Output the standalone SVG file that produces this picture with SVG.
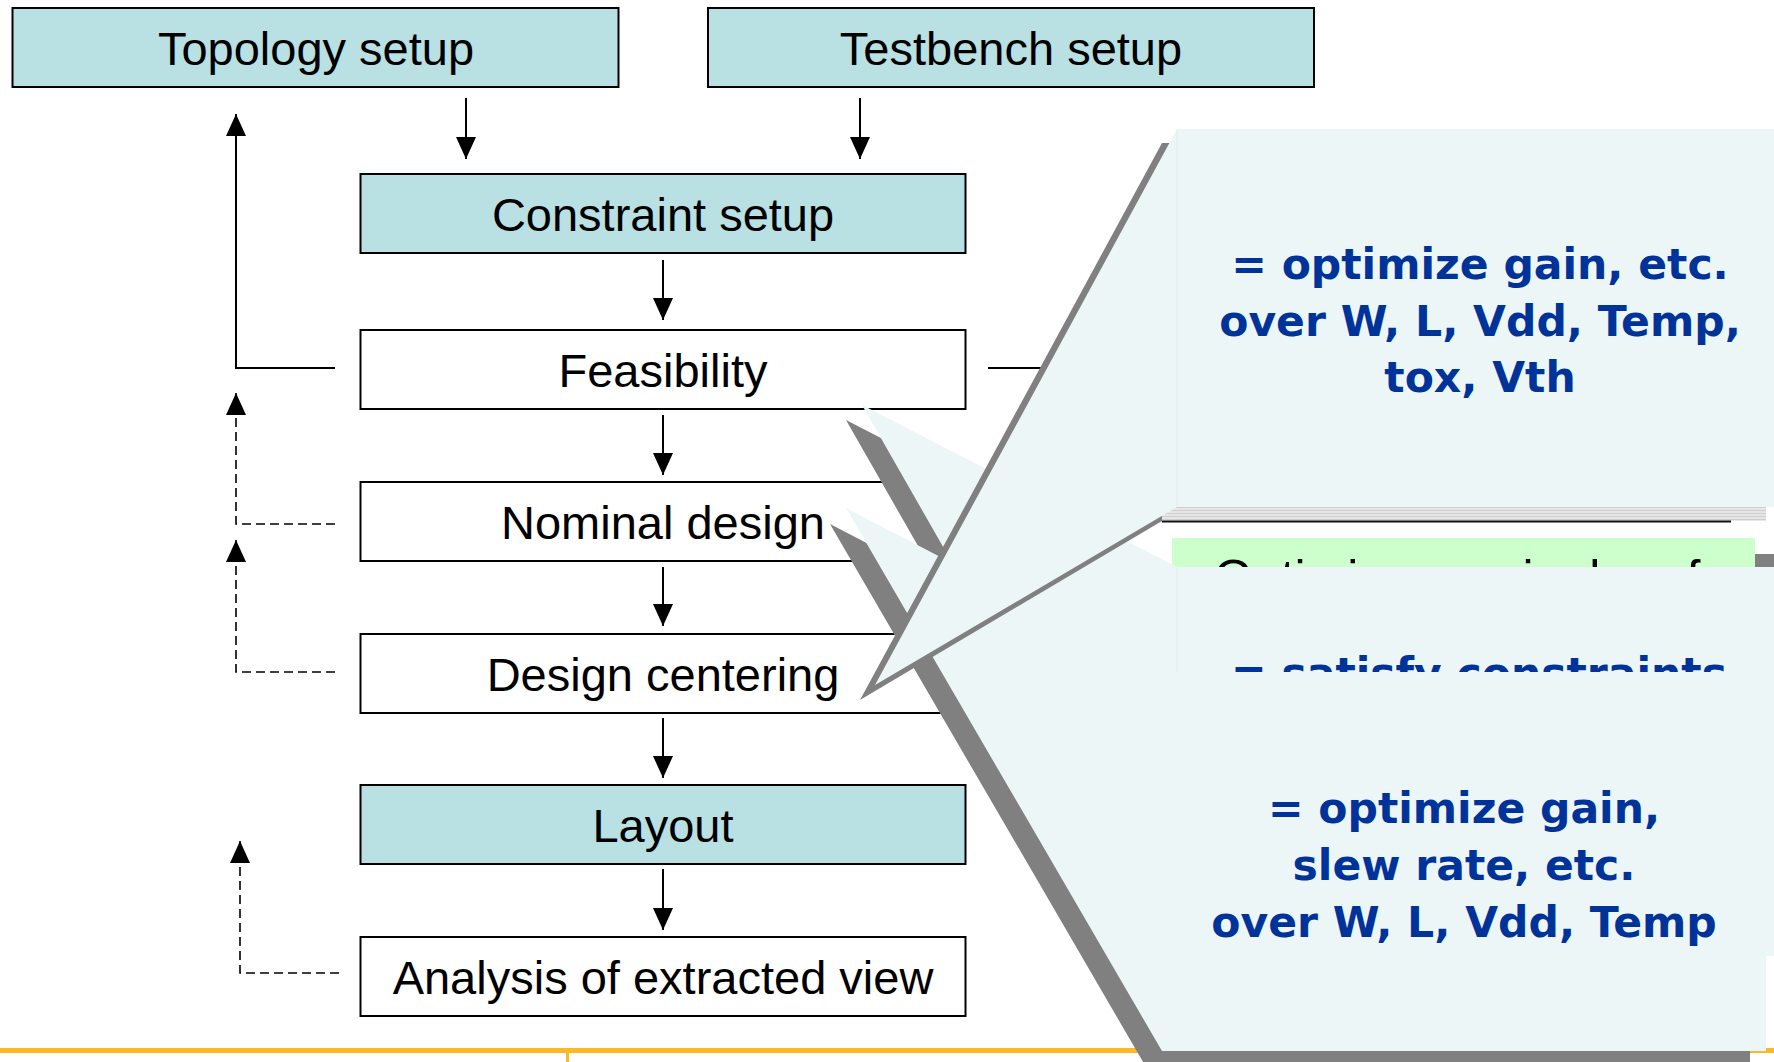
<svg xmlns="http://www.w3.org/2000/svg" width="1774" height="1062" viewBox="0 0 1774 1062">
  <defs>
    <style>
      .box { stroke: #000; stroke-width: 2; }
      .teal { fill: #B9E0E3; }
      .white { fill: #FFFFFF; }
      .lbl { font-family: "Liberation Sans", Arial, sans-serif; font-size: 47px; fill: #000; text-anchor: middle; }
      .conn { stroke: #000; stroke-width: 2; fill: none; }
      .dash { stroke: #000; stroke-width: 1.6; fill: none; stroke-dasharray: 9 5; }
      .callout { fill: #EDF6F7; }
      .shadow { fill: #808080; }
      .ctext { font-family: "DejaVu Sans", Verdana, sans-serif; font-weight: bold; font-size: 42.5px; fill: #003399; text-anchor: middle; }
      .seam { stroke: #E0EAEC; stroke-width: 1; }
    </style>
    <marker id="ah" markerUnits="userSpaceOnUse" markerWidth="22" markerHeight="20" refX="22" refY="10" orient="auto">
      <path d="M0,0 L22,10 L0,20 Z" fill="#000" stroke="none"/>
    </marker>
    <pattern id="stripe" patternUnits="userSpaceOnUse" width="8" height="3">
      <rect width="8" height="3" fill="#E6E6E6"/>
      <rect width="8" height="1" fill="#CFCFCF"/>
    </pattern>
    <clipPath id="noteclip">
      <rect x="1172" y="538" width="600" height="29"/>
    </clipPath>
  </defs>

  <rect width="1774" height="1062" fill="#FFFFFF"/>

  <!-- footer rule -->
  <g id="footer">
    <rect x="0" y="1048" width="1774" height="5" fill="#FDB827"/>
    <rect x="566" y="1052" width="3" height="10" fill="#FDB827"/>
  </g>

  <!-- connectors -->
  <g id="connectors">
    <line class="conn" x1="466" y1="98" x2="466" y2="159" marker-end="url(#ah)"/>
    <line class="conn" x1="860" y1="98" x2="860" y2="159" marker-end="url(#ah)"/>
    <line class="conn" x1="663" y1="260" x2="663" y2="320" marker-end="url(#ah)"/>
    <line class="conn" x1="663" y1="415" x2="663" y2="475" marker-end="url(#ah)"/>
    <line class="conn" x1="663" y1="567" x2="663" y2="626" marker-end="url(#ah)"/>
    <line class="conn" x1="663" y1="718" x2="663" y2="778" marker-end="url(#ah)"/>
    <line class="conn" x1="663" y1="869" x2="663" y2="930" marker-end="url(#ah)"/>
    <polyline class="conn" points="335,368 236,368 236,114" marker-end="url(#ah)"/>
    <line class="conn" x1="988" y1="368" x2="1060" y2="368"/>
    <polyline class="dash" points="335,524 236,524 236,393" marker-end="url(#ah)"/>
    <polyline class="dash" points="335,672 236,672 236,540" marker-end="url(#ah)"/>
    <polyline class="dash" points="339,973 240,973 240,841" marker-end="url(#ah)"/>
  </g>

  <!-- nodes -->
  <g id="topology">
    <rect class="box teal" x="12.5" y="8" width="606" height="79"/>
    <text class="lbl" x="316" y="64.5">Topology setup</text>
  </g>
  <g id="testbench">
    <rect class="box teal" x="708" y="8" width="606" height="79"/>
    <text class="lbl" x="1011" y="64.5">Testbench setup</text>
  </g>
  <g id="constraint">
    <rect class="box teal" x="360.5" y="174" width="605" height="79"/>
    <text class="lbl" x="663" y="230.5">Constraint setup</text>
  </g>
  <g id="feasibility">
    <rect class="box white" x="360.5" y="330" width="605" height="79"/>
    <text class="lbl" x="663" y="386.5">Feasibility</text>
  </g>
  <g id="nominal">
    <rect class="box white" x="360.5" y="482" width="605" height="79"/>
    <text class="lbl" x="663" y="538.5">Nominal design</text>
  </g>
  <g id="centering">
    <rect class="box white" x="360.5" y="634" width="605" height="79"/>
    <text class="lbl" x="663" y="690.5">Design centering</text>
  </g>
  <g id="layout">
    <rect class="box teal" x="360.5" y="785" width="605" height="79"/>
    <text class="lbl" x="663" y="841.5">Layout</text>
  </g>
  <g id="analysis">
    <rect class="box white" x="360.5" y="937" width="605" height="79"/>
    <text class="lbl" x="663" y="993.5">Analysis of extracted view</text>
  </g>

  <!-- partially hidden green note -->
  <g id="note-green">
    <rect x="1755" y="554" width="19" height="13" fill="#808080"/>
    <rect x="1172" y="538" width="583" height="29" fill="#CCFFCC"/>
    <g clip-path="url(#noteclip)">
      <text x="1214" y="595" font-family="Liberation Sans, Arial, sans-serif" font-size="50" fill="#000">Optimize nominal perf</text>
    </g>
  </g>

  <!-- callout: satisfy constraints (to Feasibility) -->
  <g id="callout-feasibility">
    <polygon class="shadow" points="1161,582 1765,582 1765,971 1161,971 846,420"/>
    <polygon class="callout" points="1177,567 1781,567 1781,956 1177,956 862,405"/>
    <line class="seam" x1="1177" y1="568" x2="1177" y2="672"/>
    <text class="ctext" x="1479" y="688">= satisfy constraints</text>
  </g>

  <!-- callout: optimize gain, slew rate (to Nominal design) -->
  <g id="callout-nominal">
    <polygon class="shadow" points="1146,688 1750,688 1750,1067 1146,1067 830,524"/>
    <polygon class="callout" points="1162,672 1766,672 1766,1051 1162,1051 846,508"/>
    <text class="ctext" x="1464" y="823">= optimize gain,</text>
    <text class="ctext" x="1464" y="880">slew rate, etc.</text>
    <text class="ctext" x="1464" y="937">over W, L, Vdd, Temp</text>
  </g>

  <!-- callout: optimize gain, tox, Vth (to Design centering) -->
  <g id="callout-centering">
    <polygon class="shadow" points="1162,143 1766,143 1766,521 1162,521 860,700"/>
    <rect x="1162" y="507" width="604" height="14" fill="url(#stripe)"/>
    <line x1="1162" y1="521.5" x2="1731" y2="521.5" stroke="#111" stroke-width="2"/>
    <polygon class="callout" points="1177,129 1781,129 1781,507 1177,507 875,685"/>
    <line class="seam" x1="1177" y1="130" x2="1177" y2="506"/>
    <text class="ctext" x="1480" y="279">= optimize gain, etc.</text>
    <text class="ctext" x="1480" y="336">over W, L, Vdd, Temp,</text>
    <text class="ctext" x="1480" y="392">tox, Vth</text>
  </g>
</svg>
